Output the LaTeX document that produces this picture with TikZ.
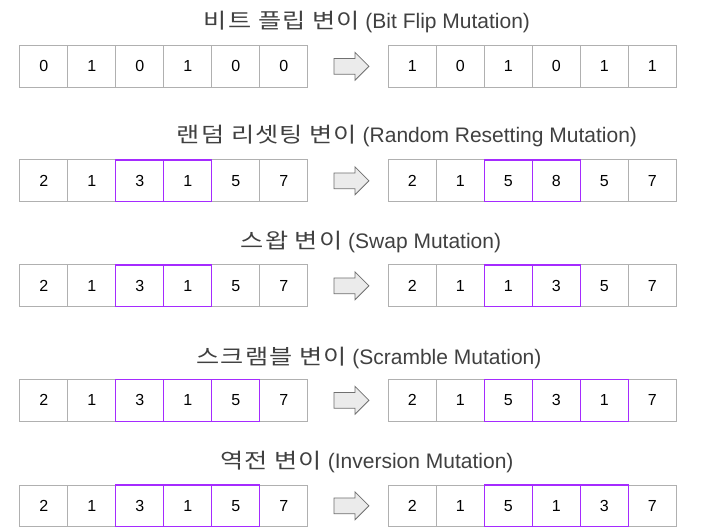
\documentclass[tikz,border=0pt]{standalone}
\usepackage{fontspec}
\setmainfont{Liberation Sans}
\newfontfamily\kr[FakeStretch=1.2,LetterSpace=5]{Noto Sans CJK KR}
\usetikzlibrary{shapes.arrows}
\definecolor{cellgray}{HTML}{B0B0B0}
\definecolor{hlpurple}{HTML}{A52BFF}
\definecolor{titlegray}{HTML}{404040}
\definecolor{arrowfill}{HTML}{EBEBEB}
\definecolor{arrowline}{HTML}{707070}
\tikzset{
  cell/.style={draw=cellgray, line width=1pt, minimum width=48pt, minimum height=41.7pt,
    inner sep=0pt, outer sep=0pt, font=\fontsize{16}{18}\selectfont, text=black},
  hlbox/.style={draw=hlpurple, line width=1.3pt},
  title/.style={anchor=base, text=titlegray, font=\fontsize{21}{24}\selectfont, inner sep=0pt},
  bigarrow/.style={single arrow, draw=arrowline, fill=arrowfill, line width=0.8pt,
    minimum height=35pt, minimum width=27pt, inner sep=7.5pt, single arrow head extend=6pt,
    single arrow tip angle=90, anchor=center, shape border rotate=0}
}
\begin{document}
\begin{tikzpicture}[x=1pt,y=-1pt]
\useasboundingbox (0,0) rectangle (705,532);
% titles
\node[title] (t1) at (367,29) {{\kr 비트 플립 변이} (Bit Flip Mutation)};
\node[title] (t2) at (407,143) {{\kr 랜덤 리셋팅 변이} (Random Resetting Mutation)};
\node[title] (t3) at (371,249) {{\kr 스왑 변이} (Swap Mutation)};
\node[title] (t4) at (369,364) {{\kr 스크램블 변이} (Scramble Mutation)};
\node[title] (t5) at (367,468) {{\kr 역전 변이} (Inversion Mutation)};
% row 1
\foreach \v [count=\i] in {0,1,0,1,0,0}
  \node[cell] (a1\i) at ({43.8+48*(\i-1)},66.35) {\v};
\foreach \v [count=\i] in {1,0,1,0,1,1}
  \node[cell] (b1\i) at ({412.3+48*(\i-1)},66.35) {\v};
\node[bigarrow] (ar1) at (347.5,66.35) {};
% row 2
\foreach \v [count=\i] in {2,1,3,1,5,7}
  \node[cell] (a2\i) at ({43.8+48*(\i-1)},180.85) {\v};
\foreach \v [count=\i] in {2,1,5,8,5,7}
  \node[cell] (b2\i) at ({412.3+48*(\i-1)},180.85) {\v};
\node[bigarrow] (ar2) at (347.5,180.85) {};
% row 3
\foreach \v [count=\i] in {2,1,3,1,5,7}
  \node[cell] (a3\i) at ({43.8+48*(\i-1)},285.85) {\v};
\foreach \v [count=\i] in {2,1,1,3,5,7}
  \node[cell] (b3\i) at ({412.3+48*(\i-1)},285.85) {\v};
\node[bigarrow] (ar3) at (347.5,285.85) {};
% row 4
\foreach \v [count=\i] in {2,1,3,1,5,7}
  \node[cell] (a4\i) at ({43.8+48*(\i-1)},400.35) {\v};
\foreach \v [count=\i] in {2,1,5,3,1,7}
  \node[cell] (b4\i) at ({412.3+48*(\i-1)},400.35) {\v};
\node[bigarrow] (ar4) at (347.5,400.35) {};
% row 5
\foreach \v [count=\i] in {2,1,3,1,5,7}
  \node[cell] (a5\i) at ({43.8+48*(\i-1)},505.85) {\v};
\foreach \v [count=\i] in {2,1,5,1,3,7}
  \node[cell] (b5\i) at ({412.3+48*(\i-1)},505.85) {\v};
\node[bigarrow] (ar5) at (347.5,505.85) {};
% highlighted cells
\foreach \n in {a23,a24,b23,b24,a33,a34,b33,b34,a43,a44,a45,b43,b44,b45,a53,a54,a55,b53,b54,b55}
  \draw[hlbox] (\n.north west) rectangle (\n.south east);
\end{tikzpicture}
\end{document}
